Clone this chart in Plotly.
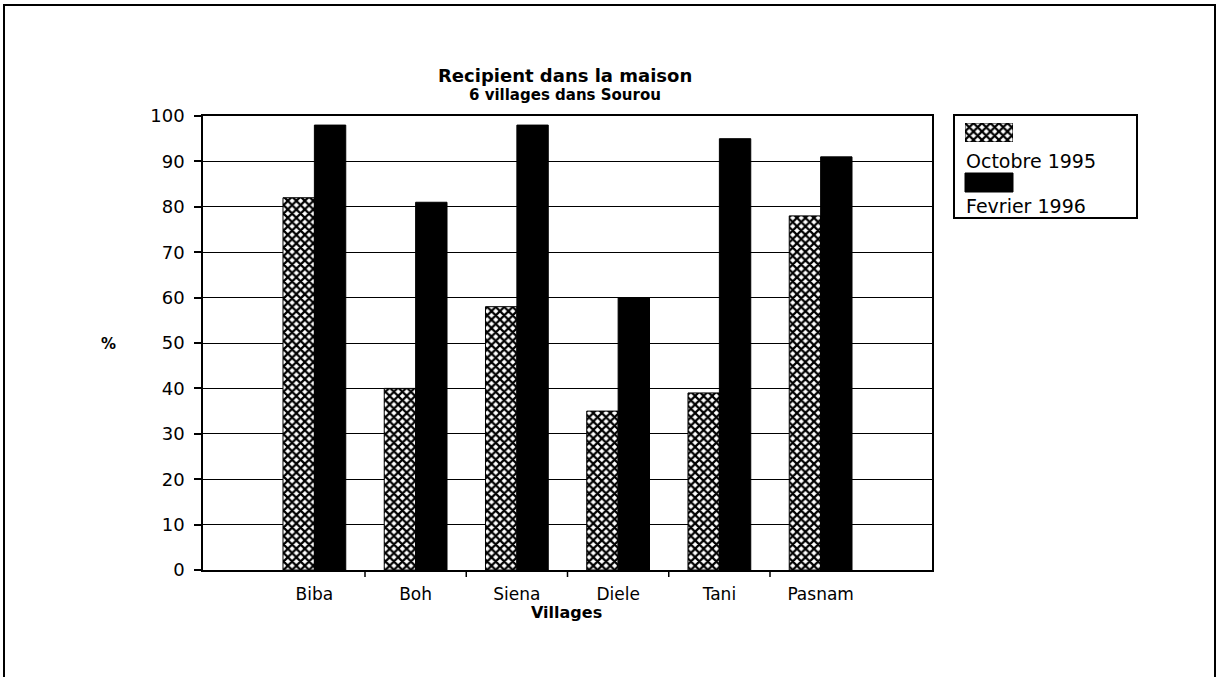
import plotly.graph_objects as go

villages = ["Biba", "Boh", "Siena", "Diele", "Tani", "Pasnam"]
octobre_1995 = [82, 40, 58, 35, 39, 78]
fevrier_1996 = [98, 81, 98, 60, 95, 91]
y_ticks = list(range(0, 101, 10))

W, H = 1217, 677
FONT = "DejaVu Sans"


def px(x):
    return x / W


def py(y):
    return 1 - y / H


PLOT_L, PLOT_R, PLOT_T, PLOT_B = 203, 932, 116, 570

fig = go.Figure()

pattern = dict(shape="x", fgcolor="black", bgcolor="white", size=6, solidity=0.6)

fig.add_trace(go.Bar(
    x=villages, y=octobre_1995, name="Octobre 1995",
    marker=dict(color="white", pattern=pattern, line=dict(color="black", width=1)),
    showlegend=False, xaxis="x", yaxis="y",
))
fig.add_trace(go.Bar(
    x=villages, y=fevrier_1996, name="Fevrier 1996",
    marker=dict(color="black", line=dict(color="black", width=1)),
    showlegend=False, xaxis="x", yaxis="y",
))

# legend swatch (patterned) on its own small axes
fig.add_trace(go.Bar(
    x=[0], y=[1], width=[1],
    marker=dict(color="white", pattern=pattern, line=dict(color="black", width=1)),
    showlegend=False, hoverinfo="skip", xaxis="x2", yaxis="y2",
))

shapes = []
# x tick marks at category boundaries
for i in range(len(villages) - 1):
    shapes.append(dict(type="line", xref="x", yref="paper",
                       x0=i + 0.5, x1=i + 0.5, y0=py(PLOT_B), y1=py(PLOT_B + 7),
                       line=dict(color="black", width=1.5)))
# legend box
shapes.append(dict(type="rect", xref="paper", yref="paper",
                   x0=px(954), x1=px(1137), y0=py(115), y1=py(218),
                   line=dict(color="black", width=2), fillcolor="rgba(0,0,0,0)"))
# black legend swatch
shapes.append(dict(type="rect", xref="paper", yref="paper",
                   x0=px(965), x1=px(1013), y0=py(173), y1=py(192),
                   line=dict(color="black", width=1), fillcolor="black"))
# outer page frame
shapes.append(dict(type="rect", xref="paper", yref="paper",
                   x0=px(4), x1=px(1215), y0=py(679), y1=py(5),
                   line=dict(color="black", width=2), fillcolor="rgba(0,0,0,0)"))

annotations = [
    dict(text="<b>Recipient dans la maison</b>", x=px(565), y=py(76), xref="paper", yref="paper",
         showarrow=False, font=dict(family=FONT, size=18, color="black"), xanchor="center", yanchor="middle"),
    dict(text="<b>6 villages dans Sourou</b>", x=px(565), y=py(95), xref="paper", yref="paper",
         showarrow=False, font=dict(family=FONT, size=15, color="black"), xanchor="center", yanchor="middle"),
    dict(text="<b>%</b>", x=px(108), y=py(344), xref="paper", yref="paper",
         showarrow=False, font=dict(family=FONT, size=15, color="black"), xanchor="center", yanchor="middle"),
    dict(text="<b>Villages</b>", x=px(566), y=py(612), xref="paper", yref="paper",
         showarrow=False, font=dict(family=FONT, size=16, color="black"), xanchor="center", yanchor="middle"),
    dict(text="Octobre 1995", x=px(964), y=py(161), xref="paper", yref="paper",
         showarrow=False, font=dict(family=FONT, size=19, color="black"), xanchor="left", yanchor="middle"),
    dict(text="Fevrier 1996", x=px(964), y=py(206), xref="paper", yref="paper",
         showarrow=False, font=dict(family=FONT, size=19, color="black"), xanchor="left", yanchor="middle"),
]

fig.update_layout(
    width=W, height=H,
    margin=dict(l=0, r=0, t=0, b=0),
    paper_bgcolor="white", plot_bgcolor="white",
    template="none",
    barmode="group", bargap=0.38, bargroupgap=0.0,
    font=dict(family=FONT, color="black"),
    showlegend=False,
    shapes=shapes,
    annotations=annotations,
    xaxis=dict(
        domain=[px(PLOT_L), px(PLOT_R)],
        type="category", range=[-1.1, 6.1],
        showgrid=False, zeroline=False,
        showline=True, linecolor="black", linewidth=1.5, mirror=True,
        ticks="", tickfont=dict(family=FONT, size=17, color="black"),
        ticklabelstandoff=8,
        anchor="y", fixedrange=True,
    ),
    yaxis=dict(
        domain=[py(PLOT_B), py(PLOT_T)],
        range=[0, 100], tickvals=y_ticks,
        showgrid=True, gridcolor="black", gridwidth=1,
        zeroline=False,
        showline=True, linecolor="black", linewidth=1.5, mirror=True,
        ticks="outside", ticklen=7, tickcolor="black", tickwidth=1.5,
        tickfont=dict(family=FONT, size=18, color="black"),
        ticklabelstandoff=6,
        anchor="x", fixedrange=True,
    ),
    xaxis2=dict(domain=[px(965), px(1013)], range=[-0.5, 0.5], visible=False,
                anchor="y2", fixedrange=True),
    yaxis2=dict(domain=[py(142), py(123)], range=[0, 1], visible=False,
                anchor="x2", fixedrange=True),
)

fig.write_html(
    "out.html",
    config={"displayModeBar": False},
    post_script="document.body.style.margin='0';document.body.style.overflow='hidden';",
)
